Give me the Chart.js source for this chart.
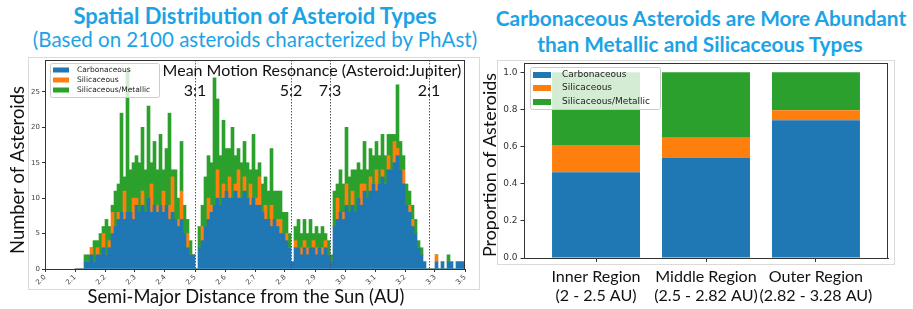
<!DOCTYPE html>
<html>
<head>
<meta charset="utf-8">
<script src="https://cdn.jsdelivr.net/npm/chart.js@4.4.1/dist/chart.umd.min.js"></script>
<style>
  body { margin:0; width:913px; height:309px; background:#fff; overflow:hidden; position:relative; }
  canvas { position:absolute; top:0; }
  .title { position:absolute; white-space:nowrap; color:#1ca3e6; font-family:Lato, sans-serif;
           line-height:1; transform:translate(-50%,-50%); }
  .frame { position:absolute; border:1px solid #dadada; }
</style>
</head>
<body>
<div class="frame" style="left:28px;top:57px;width:450px;height:231px"></div>
<div class="frame" style="left:497px;top:60px;width:396px;height:203px"></div>

<div class="title" id="t1" style="left:255px;top:16px;font-weight:700">Spatial Distribution of Asteroid Types</div>
<div class="title" id="t2" style="left:255px;top:39px;font-weight:400">(Based on 2100 asteroids characterized by PhAst)</div>
<div class="title" id="t3" style="left:701px;top:18px;font-weight:700">Carbonaceous Asteroids are More Abundant</div>
<div class="title" id="t4" style="left:700px;top:44px;font-weight:700">than Metallic and Silicaceous Types</div>

<canvas id="hist" width="480" height="309" style="left:0"></canvas>
<canvas id="bars" width="433" height="309" style="left:480px"></canvas>

<script>
// =========================================
// DATOS - HISTOGRAMA (bins de 0.01 AU desde 2.10)
// =========================================
const binStart = 2.10;
const binWidth = 0.01;

const carbonaceous = [
  0,0,0,
  1,1,2,1,2,2,3,2,3,
  5,6,7,8,7,8,8,7,9,8,9,8,10,8,9,8,9,8,9,7,8,7,6,7,5,3,2,2,
  0,
  3,4,6,7,8,9,10,9,10,11,10,10,11,10,10,11,10,9,10,9,9,8,7,7,6,7,6,5,5,4,3,
  1,
  3,3,2,3,2,3,3,2,3,2,3,2,1,
  6,7,8,7,9,8,9,8,10,9,11,10,11,12,11,12,13,12,14,14,15,16,14,12,9,8,6,5,3,2,1,
  0,0,0,
  1,0,1,0,1,1,0,1,1,1
];

const silicaceous = [
  0,0,0,
  0,0,1,0,1,0,2,0,1,
  3,0,1,0,4,0,0,3,1,0,2,0,0,4,0,1,0,3,0,2,5,0,1,4,0,2,0,0,
  0,
  0,2,0,3,1,0,4,0,2,0,3,0,1,4,0,2,0,3,0,1,4,0,2,0,3,0,1,2,0,1,0,
  0,
  1,0,1,1,1,0,1,1,0,1,1,0,0,
  0,3,0,1,3,0,2,0,0,3,1,0,2,0,3,0,1,0,2,0,3,1,0,2,0,1,1,0,0,0,0,
  0,0,0,
  1,0,0,0,0,0,0,0,0,0
];

const metallic = [
  0,0,0,
  1,1,0,3,1,3,1,5,2,
  1,5,4,14,2,20,6,5,6,7,9,6,13,3,9,5,10,3,8,13,1,7,3,7,4,2,2,0,
  0,
  3,3,7,6,6,18,10,7,9,6,4,10,4,3,5,5,5,2,9,4,2,4,4,4,8,4,4,4,3,3,2,
  0,
  2,4,2,3,2,4,1,3,2,3,1,2,1,
  5,2,6,4,8,5,3,6,5,2,6,4,4,4,4,4,5,4,3,5,1,9,4,2,3,2,2,2,1,1,0,
  0,0,0,
  0,0,0,0,1,0,0,0,0,0
];

const typeLabels = ['Carbonaceous', 'Silicaceous', 'Silicaceous/Metallic'];
const typeColors = ['#1f77b4', '#ff7f0e', '#2ca02c'];

// ticks del eje x (la ultima marca va rotulada 3.5 en el original)
const xTickPos    = [2.0,2.1,2.2,2.3,2.4,2.5,2.6,2.7,2.8,2.9,3.0,3.1,3.2,3.3,3.4];
const xTickLabels = ['2.0','2.1','2.2','2.3','2.4','2.5','2.6','2.7','2.8','2.9','3.0','3.1','3.2','3.3','3.5'];
const yTicksHist  = [0,5,10,15,20,25];

// resonancias
const resonanceAU     = [2.5, 2.82, 2.95, 3.28];
const resonanceLabels = ['3:1', '5:2', '7:3', '2:1'];

// =========================================
// DATOS - PROPORCIONES POR REGION
// =========================================
const regionNames  = ['Inner Region', 'Middle Region', 'Outer Region'];
const regionRanges = ['(2 - 2.5 AU)', '(2.5 - 2.82 AU)', '(2.82 - 3.28 AU)'];
const propCarbonaceous = [0.462, 0.539, 0.742];
const propSilicaceous  = [0.146, 0.108, 0.054];
const propMetallic     = [0.392, 0.353, 0.204];
const yTicksProp = [0, 0.2, 0.4, 0.6, 0.8, 1.0];

// =========================================
// AJUSTE DE FUENTES
// =========================================
const SANS = 'Lato, sans-serif';
const DEJA = '"DejaVu Sans", sans-serif';

function fitSize(text, weight, family, width){
  const c = document.createElement('canvas').getContext('2d');
  c.font = `${weight} 100px ${family}`;
  return 100 * width / c.measureText(text).width;
}

[['t1',700,365],['t2',400,445],['t3',700,412],['t4',700,326]].forEach(([id,w,width]) => {
  const el = document.getElementById(id);
  el.style.fontSize = fitSize(el.textContent, w, SANS, width).toFixed(2) + 'px';
});

const yTitleText = 'Number of Asteroids';
const xTitleText = 'Semi-Major Distance from the Sun (AU)';
const propTitleText = 'Proportion of Asteroids';
const resText = 'Mean Motion Resonance (Asteroid:Jupiter)';

const yTitleSize    = fitSize(yTitleText, 400, SANS, 168);
const xTitleSize    = fitSize(xTitleText, 400, SANS, 317);
const resTextSize   = fitSize(resText, 400, SANS, 299);
const catSize       = fitSize('(2.82 - 3.28 AU)', 400, SANS, 113);
const propTitleSize = fitSize(propTitleText, 400, SANS, 184);

function drawText(ctx, text, x, y, size, rot){
  ctx.save();
  ctx.translate(x, y);
  if (rot) ctx.rotate(rot);
  ctx.font = `${size}px ${SANS}`;
  ctx.fillStyle = '#111';
  ctx.textAlign = 'center';
  ctx.textBaseline = 'middle';
  ctx.fillText(text, 0, 0);
  ctx.restore();
}

// =========================================
// LEYENDA DIBUJADA
// =========================================
function drawLegend(ctx, box, fontSize, rowY, patchX, patchW, patchH, textX){
  ctx.save();
  ctx.fillStyle = 'rgba(255,255,255,0.8)';
  ctx.strokeStyle = '#cccccc';
  ctx.lineWidth = 1;
  ctx.beginPath();
  ctx.roundRect(box.x + 0.5, box.y + 0.5, box.w, box.h, 2);
  ctx.fill();
  ctx.stroke();
  ctx.font = `${fontSize}px ${DEJA}`;
  ctx.textBaseline = 'middle';
  typeLabels.forEach((lab, i) => {
    ctx.fillStyle = typeColors[i];
    ctx.fillRect(patchX, rowY[i] - patchH / 2, patchW, patchH);
    ctx.fillStyle = '#222';
    ctx.fillText(lab, textX, rowY[i]);
  });
  ctx.restore();
}

// =========================================
// HISTOGRAMA
// =========================================
const histExtras = {
  id: 'histExtras',
  afterDatasetsDraw(chart){
    const {ctx, chartArea: a, scales: {x}} = chart;
    ctx.save();
    ctx.strokeStyle = '#555';
    ctx.lineWidth = 1;
    ctx.setLineDash([1.5, 1.5]);
    resonanceAU.forEach(au => {
      const px = Math.round(x.getPixelForValue(au)) + 0.5;
      ctx.beginPath();
      ctx.moveTo(px, a.top);
      ctx.lineTo(px, a.bottom);
      ctx.stroke();
    });
    ctx.setLineDash([]);
    ctx.strokeStyle = '#333';
    ctx.strokeRect(a.left + 0.5, a.top + 0.5, a.right - a.left - 1, a.bottom - a.top);
    ctx.restore();

    drawText(ctx, resText, x.getPixelForValue(2.89), 71, resTextSize);
    resonanceAU.forEach((au, i) => drawText(ctx, resonanceLabels[i], x.getPixelForValue(au), 91, resTextSize));
    drawText(ctx, xTitleText, 246, 297, xTitleSize);
    drawText(ctx, yTitleText, 18, 170, yTitleSize, -Math.PI / 2);

    drawLegend(ctx, {x: 50, y: 63, w: 109, h: 34}, 7.5, [70, 80, 90], 53, 16, 5, 77);
  }
};

const histSets = [carbonaceous, silicaceous, metallic].map((serie, k) => ({
  label: typeLabels[k],
  data: serie.map((v, i) => ({x: binStart + binWidth * (i + 0.5), y: v})),
  backgroundColor: typeColors[k],
  borderWidth: 0,
  barPercentage: 1,
  categoryPercentage: 1
}));

new Chart(document.getElementById('hist'), {
  type: 'bar',
  data: { datasets: histSets },
  options: {
    responsive: false,
    animation: false,
    layout: { padding: { left: 0, top: 60, right: 15, bottom: 0 } },
    plugins: { legend: { display: false }, tooltip: { enabled: false } },
    scales: {
      x: {
        type: 'linear', stacked: true, min: 2.0, max: 3.4, offset: false,
        afterBuildTicks: s => { s.ticks = xTickPos.map(v => ({value: v})); },
        afterFit: s => { s.height = 40; },
        ticks: {
          autoSkip: false,
          callback: (v, i) => xTickLabels[i],
          font: { family: DEJA, size: 7 }, color: '#444',
          minRotation: 45, maxRotation: 45, padding: 1
        },
        grid: { display: true, drawOnChartArea: false, offset: false, tickLength: 3, color: '#333' },
        border: { display: true, color: '#333' }
      },
      y: {
        stacked: true, min: 0, max: 29.5,
        afterBuildTicks: s => { s.ticks = yTicksHist.map(v => ({value: v})); },
        afterFit: s => { s.width = 45; },
        ticks: { font: { family: DEJA, size: 7 }, color: '#444', padding: 2 },
        grid: { display: true, drawOnChartArea: false, tickLength: 3, color: '#333' },
        border: { display: true, color: '#333' }
      }
    }
  },
  plugins: [histExtras]
});

// =========================================
// BARRAS APILADAS POR REGION
// =========================================
const barExtras = {
  id: 'barExtras',
  afterDraw(chart){
    const {ctx, chartArea: a} = chart;
    ctx.save();
    ctx.strokeStyle = '#333';
    ctx.lineWidth = 1;
    ctx.strokeRect(a.left + 0.5, a.top + 0.5, a.right - a.left - 1, a.bottom - a.top);
    ctx.restore();
    drawText(ctx, propTitleText, 10, 165, propTitleSize, -Math.PI / 2);
    drawLegend(ctx, {x: 50, y: 67, w: 130, h: 42}, 9, [75, 88, 102], 53, 18, 6, 82);
  }
};

const barSets = [propCarbonaceous, propSilicaceous, propMetallic].map((serie, k) => ({
  label: typeLabels[k],
  data: serie.map((v, i) => ({x: i, y: v})),
  backgroundColor: typeColors[k],
  borderWidth: 0,
  barPercentage: 0.8,
  categoryPercentage: 1
}));

new Chart(document.getElementById('bars'), {
  type: 'bar',
  data: { datasets: barSets },
  options: {
    responsive: false,
    animation: false,
    layout: { padding: { left: 0, top: 63, right: 25, bottom: 0 } },
    plugins: { legend: { display: false }, tooltip: { enabled: false } },
    scales: {
      x: {
        type: 'linear', stacked: true, min: -0.655, max: 2.655, offset: false,
        afterBuildTicks: s => { s.ticks = regionNames.map((n, i) => ({value: i})); },
        afterFit: s => { s.height = 51; },
        ticks: {
          autoSkip: false,
          callback: (v) => [regionNames[v], regionRanges[v]],
          font: { family: SANS, size: catSize }, color: '#111',
          maxRotation: 0, minRotation: 0, padding: 5
        },
        grid: { display: true, drawOnChartArea: false, offset: false, tickLength: 4, color: '#333' },
        border: { display: true, color: '#333' }
      },
      y: {
        stacked: true, min: 0, max: 1.05,
        afterBuildTicks: s => { s.ticks = yTicksProp.map(v => ({value: v})); },
        afterFit: s => { s.width = 44; },
        ticks: { callback: v => v.toFixed(1), font: { family: DEJA, size: 9 }, color: '#333', padding: 3 },
        grid: { display: true, drawOnChartArea: false, tickLength: 3.5, color: '#333' },
        border: { display: true, color: '#333' }
      }
    }
  },
  plugins: [barExtras]
});
</script>
</body>
</html>
